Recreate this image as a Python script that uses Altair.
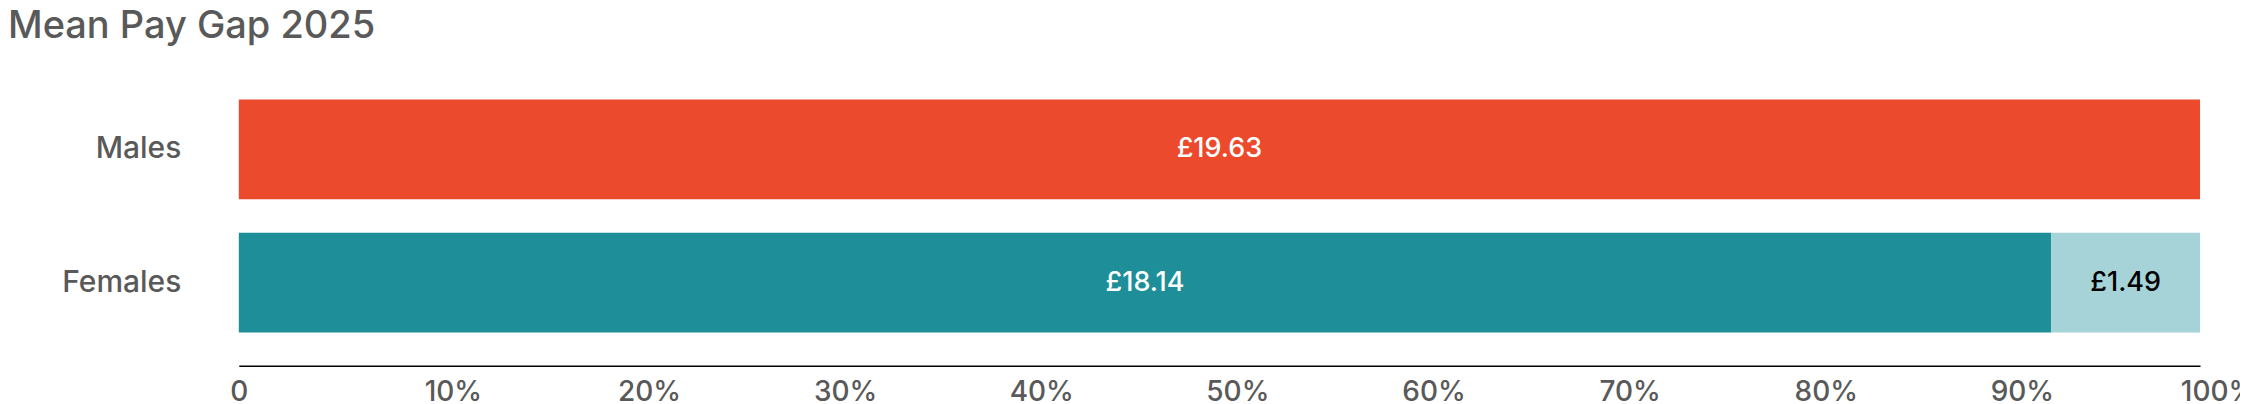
import pandas as pd
import altair as alt

# -----------------------------
# 1. Data
# -----------------------------
groups = ["Males", "Females", "Females"]
segments = ["Male pay", "Female pay", "Gap"]
values = [19.63, 18.14, 1.49]
labels = ["£19.63", "£18.14", "£1.49"]
stack_order = [1, 1, 2]
text_colors = ["#ffffff", "#ffffff", "#000000"]

seg_domain = ["Male pay", "Female pay", "Gap"]
seg_colors = ["#EB4A2C", "#1E8F99", "#A5D3D7"]
tick_values = [0, 0.1, 0.2, 0.3, 0.4, 0.5, 0.6, 0.7, 0.8, 0.9, 1.0]

df = pd.DataFrame({
    "group": groups,
    "segment": segments,
    "value": values,
    "label": labels,
    "order": stack_order,
    "tcolor": text_colors,
})

FONT = "Inter"
GREY = "#595959"

# -----------------------------
# 2. Stacked, normalised bars
# -----------------------------
base = alt.Chart(df).transform_stack(
    stack="value",
    groupby=["group"],
    as_=["x0", "x1"],
    offset="normalize",
    sort=[alt.SortField("order", order="ascending")],
).transform_calculate(
    mid="(datum.x0 + datum.x1) / 2"
)

y_enc = alt.Y(
    "group:N",
    sort=["Males", "Females"],
    title=None,
    scale=alt.Scale(paddingInner=0.25, paddingOuter=0.25),
    axis=alt.Axis(
        domain=False, ticks=False, labelPadding=58,
        labelFont=FONT, labelFontSize=30, labelColor=GREY, labelFontWeight=500,
    ),
)

bars = base.mark_bar(cornerRadius=0).encode(
    x=alt.X(
        "x0:Q",
        title=None,
        scale=alt.Scale(domain=[0, 1], nice=False, zero=True),
        axis=alt.Axis(
            values=tick_values,
            labelExpr="datum.value == 0 ? '0' : format(datum.value, '.0%')",
            grid=False, ticks=False,
            domainColor="#000000", domainWidth=1.5,
            labelFont=FONT, labelFontSize=28, labelColor=GREY, labelFontWeight=500,
            labelPadding=13, labelFlush=False,
            labelOffset={"condition": {"test": "datum.value == 0", "value": 0}, "value": 18},
        ),
    ),
    x2="x1:Q",
    y=y_enc,
    color=alt.Color(
        "segment:N",
        scale=alt.Scale(domain=seg_domain, range=seg_colors),
        legend=None,
    ),
)

text = base.mark_text(font=FONT, fontSize=27, fontWeight=500).encode(
    x="mid:Q",
    y=alt.Y("group:N", sort=["Males", "Females"]),
    text="label:N",
    color=alt.Color("tcolor:N", scale=None),
)

chart = (bars + text).properties(
    width=1963,
    height=300,
    title=alt.TitleParams(
        "Mean Pay Gap 2025",
        anchor="start",
        frame="group",
        font=FONT,
        fontSize=38,
        fontWeight=500,
        color=GREY,
        dx=-231,
        offset=20,
    ),
    autosize=alt.AutoSizeParams(type="none"),
    padding={"left": 231, "top": 58, "right": 40, "bottom": 60},
).configure_view(
    stroke=None
)

chart.save("out.html", embed_options={"renderer": "svg", "actions": False})
